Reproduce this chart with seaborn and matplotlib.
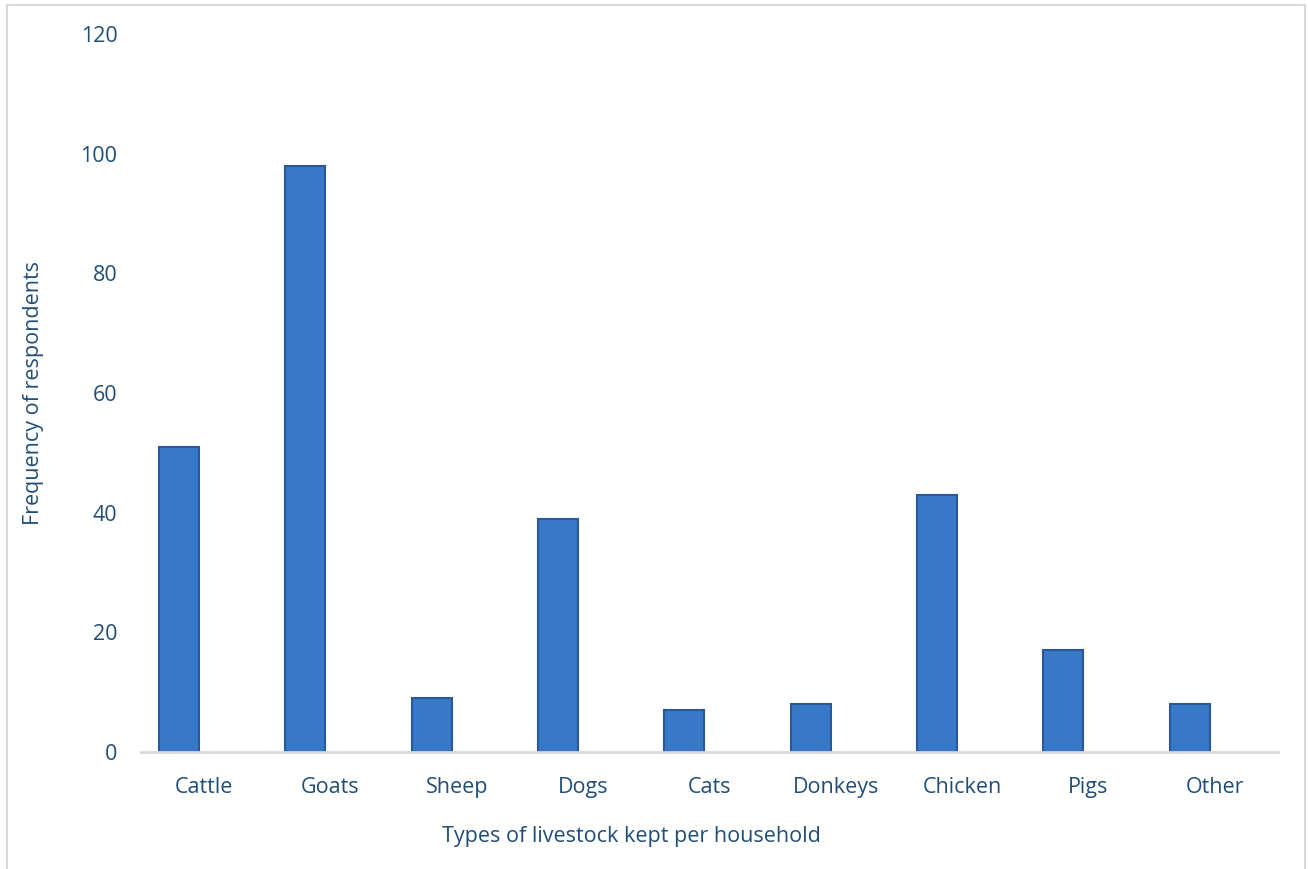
import pandas as pd
import matplotlib.pyplot as plt
import seaborn as sns
from matplotlib.patches import Rectangle

categories = ['Cattle', 'Goats', 'Sheep', 'Dogs', 'Cats', 'Donkeys', 'Chicken', 'Pigs', 'Other']
frequency = [51, 98, 9, 39, 7, 8, 43, 17, 8]
# second (empty) series, as in the original chart, pushes the bars left of centre
empty = [0] * len(categories)
y_ticks = [0, 20, 40, 60, 80, 100, 120]

df = pd.DataFrame({
    'type': categories * 2,
    'value': frequency + empty,
    'series': ['Frequency'] * len(categories) + ['blank'] * len(categories),
})

sns.set_style('white')
plt.rcParams['font.family'] = ['Open Sans', 'DejaVu Sans']
text_col = '#1F4E79'

fig = plt.figure(figsize=(13.08, 8.69), dpi=100)
ax = fig.add_axes([141 / 1308, 1 - 752 / 869, (1278 - 141) / 1308, (752 - 34) / 869])

sns.barplot(data=df, x='type', y='value', hue='series', order=categories,
            palette={'Frequency': '#3878C9', 'blank': '#3878C9'}, saturation=1,
            width=0.8, gap=0.21, edgecolor='#29599A', linewidth=1.5,
            legend=False, ax=ax)

# hide the empty series
for p in ax.patches:
    if p.get_height() == 0:
        p.set_visible(False)

ax.set_xlim(-0.5, len(categories) - 0.5)
ax.set_ylim(0, 120)
ax.set_yticks(y_ticks)
ax.tick_params(axis='both', length=0, labelsize=15.5, colors=text_col)
ax.tick_params(axis='x', pad=18)
ax.tick_params(axis='y', pad=17)

for s in ['left', 'top', 'right']:
    ax.spines[s].set_visible(False)
ax.spines['bottom'].set_color('#D9D9D9')
ax.spines['bottom'].set_linewidth(2)

ax.set_xlabel('Types of livestock kept per household', fontsize=15.5, color=text_col)
ax.xaxis.set_label_coords(0.431, -0.103)
ax.set_ylabel('Frequency of respondents', fontsize=15.5, color=text_col, labelpad=26.5)

# light frame around chart area
fig.patches.append(Rectangle((7 / 1308, -0.05), (1305 - 7) / 1308, 1.05 - 5 / 869,
                             transform=fig.transFigure, fill=False,
                             edgecolor='#D9D9D9', linewidth=1.5))

fig.savefig('out.png', dpi=100)
